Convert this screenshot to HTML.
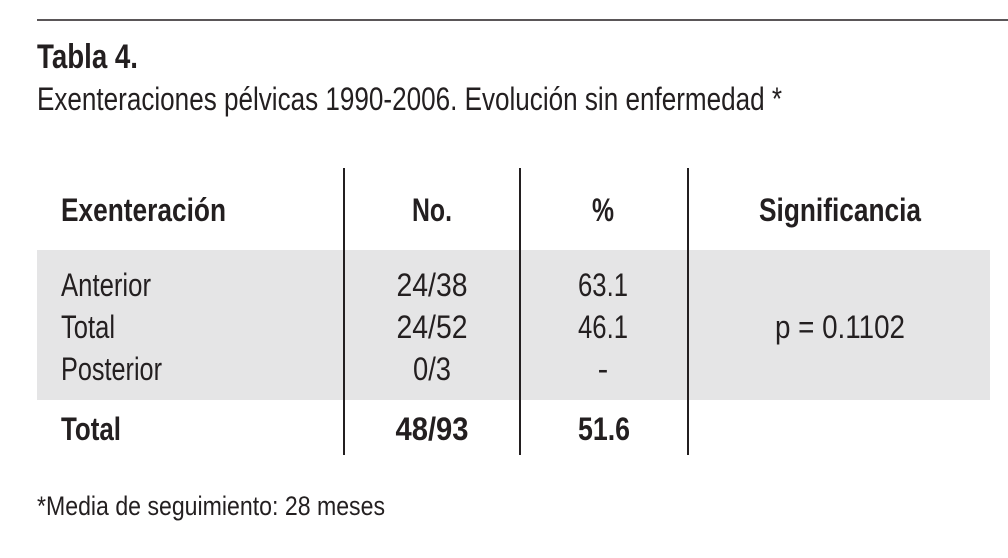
<!DOCTYPE html>
<html><head><meta charset="utf-8"><style>
html,body{margin:0;padding:0;background:#fff;}
svg{display:block;font-family:"Liberation Sans Narrow","Liberation Sans",sans-serif;fill:#231f20;}
</style></head><body>
<svg width="1008" height="558" viewBox="0 0 1008 558">
<line x1="37" y1="20" x2="1008" y2="20" stroke="#231f20" stroke-width="1.5"/>
<text x="37" y="68" font-size="34" font-weight="bold" textLength="101" lengthAdjust="spacingAndGlyphs">Tabla 4.</text>
<text x="37" y="110" font-size="32" textLength="745" lengthAdjust="spacingAndGlyphs">Exenteraciones pélvicas 1990-2006. Evolución sin enfermedad *</text>
<rect x="37" y="250" width="953" height="150" fill="#e5e5e6"/>
<g stroke="#231f20" stroke-width="2">
<line x1="344" y1="168" x2="344" y2="455"/>
<line x1="520" y1="168" x2="520" y2="455"/>
<line x1="688" y1="168" x2="688" y2="455"/>
</g>
<g font-size="32" font-weight="bold">
<text x="61" y="221" textLength="165" lengthAdjust="spacingAndGlyphs">Exenteración</text>
<text x="432" y="221" text-anchor="middle" textLength="40" lengthAdjust="spacingAndGlyphs">No.</text>
<text x="603" y="221" text-anchor="middle" textLength="22" lengthAdjust="spacingAndGlyphs">%</text>
<text x="840" y="221" text-anchor="middle" textLength="162" lengthAdjust="spacingAndGlyphs">Significancia</text>
</g>
<g font-size="32">
<text x="61" y="296" textLength="90" lengthAdjust="spacingAndGlyphs">Anterior</text>
<text x="432" y="296" text-anchor="middle" textLength="71" lengthAdjust="spacingAndGlyphs">24/38</text>
<text x="603" y="296" text-anchor="middle" textLength="50" lengthAdjust="spacingAndGlyphs">63.1</text>
<text x="61" y="338" textLength="54" lengthAdjust="spacingAndGlyphs">Total</text>
<text x="432" y="338" text-anchor="middle" textLength="71" lengthAdjust="spacingAndGlyphs">24/52</text>
<text x="603" y="338" text-anchor="middle" textLength="50" lengthAdjust="spacingAndGlyphs">46.1</text>
<text x="840" y="338" text-anchor="middle" textLength="130" lengthAdjust="spacingAndGlyphs">p = 0.1102</text>
<text x="61" y="380" textLength="101" lengthAdjust="spacingAndGlyphs">Posterior</text>
<text x="432" y="380" text-anchor="middle" textLength="38" lengthAdjust="spacingAndGlyphs">0/3</text>
<text x="603" y="380" text-anchor="middle">-</text>
</g>
<g font-size="32" font-weight="bold">
<text x="61" y="440" textLength="60" lengthAdjust="spacingAndGlyphs">Total</text>
<text x="432" y="440" text-anchor="middle" textLength="73" lengthAdjust="spacingAndGlyphs">48/93</text>
<text x="604" y="440" text-anchor="middle" textLength="52" lengthAdjust="spacingAndGlyphs">51.6</text>
</g>
<text x="37" y="515" font-size="27" textLength="348" lengthAdjust="spacingAndGlyphs">*Media de seguimiento: 28 meses</text>
</svg>
</body></html>
